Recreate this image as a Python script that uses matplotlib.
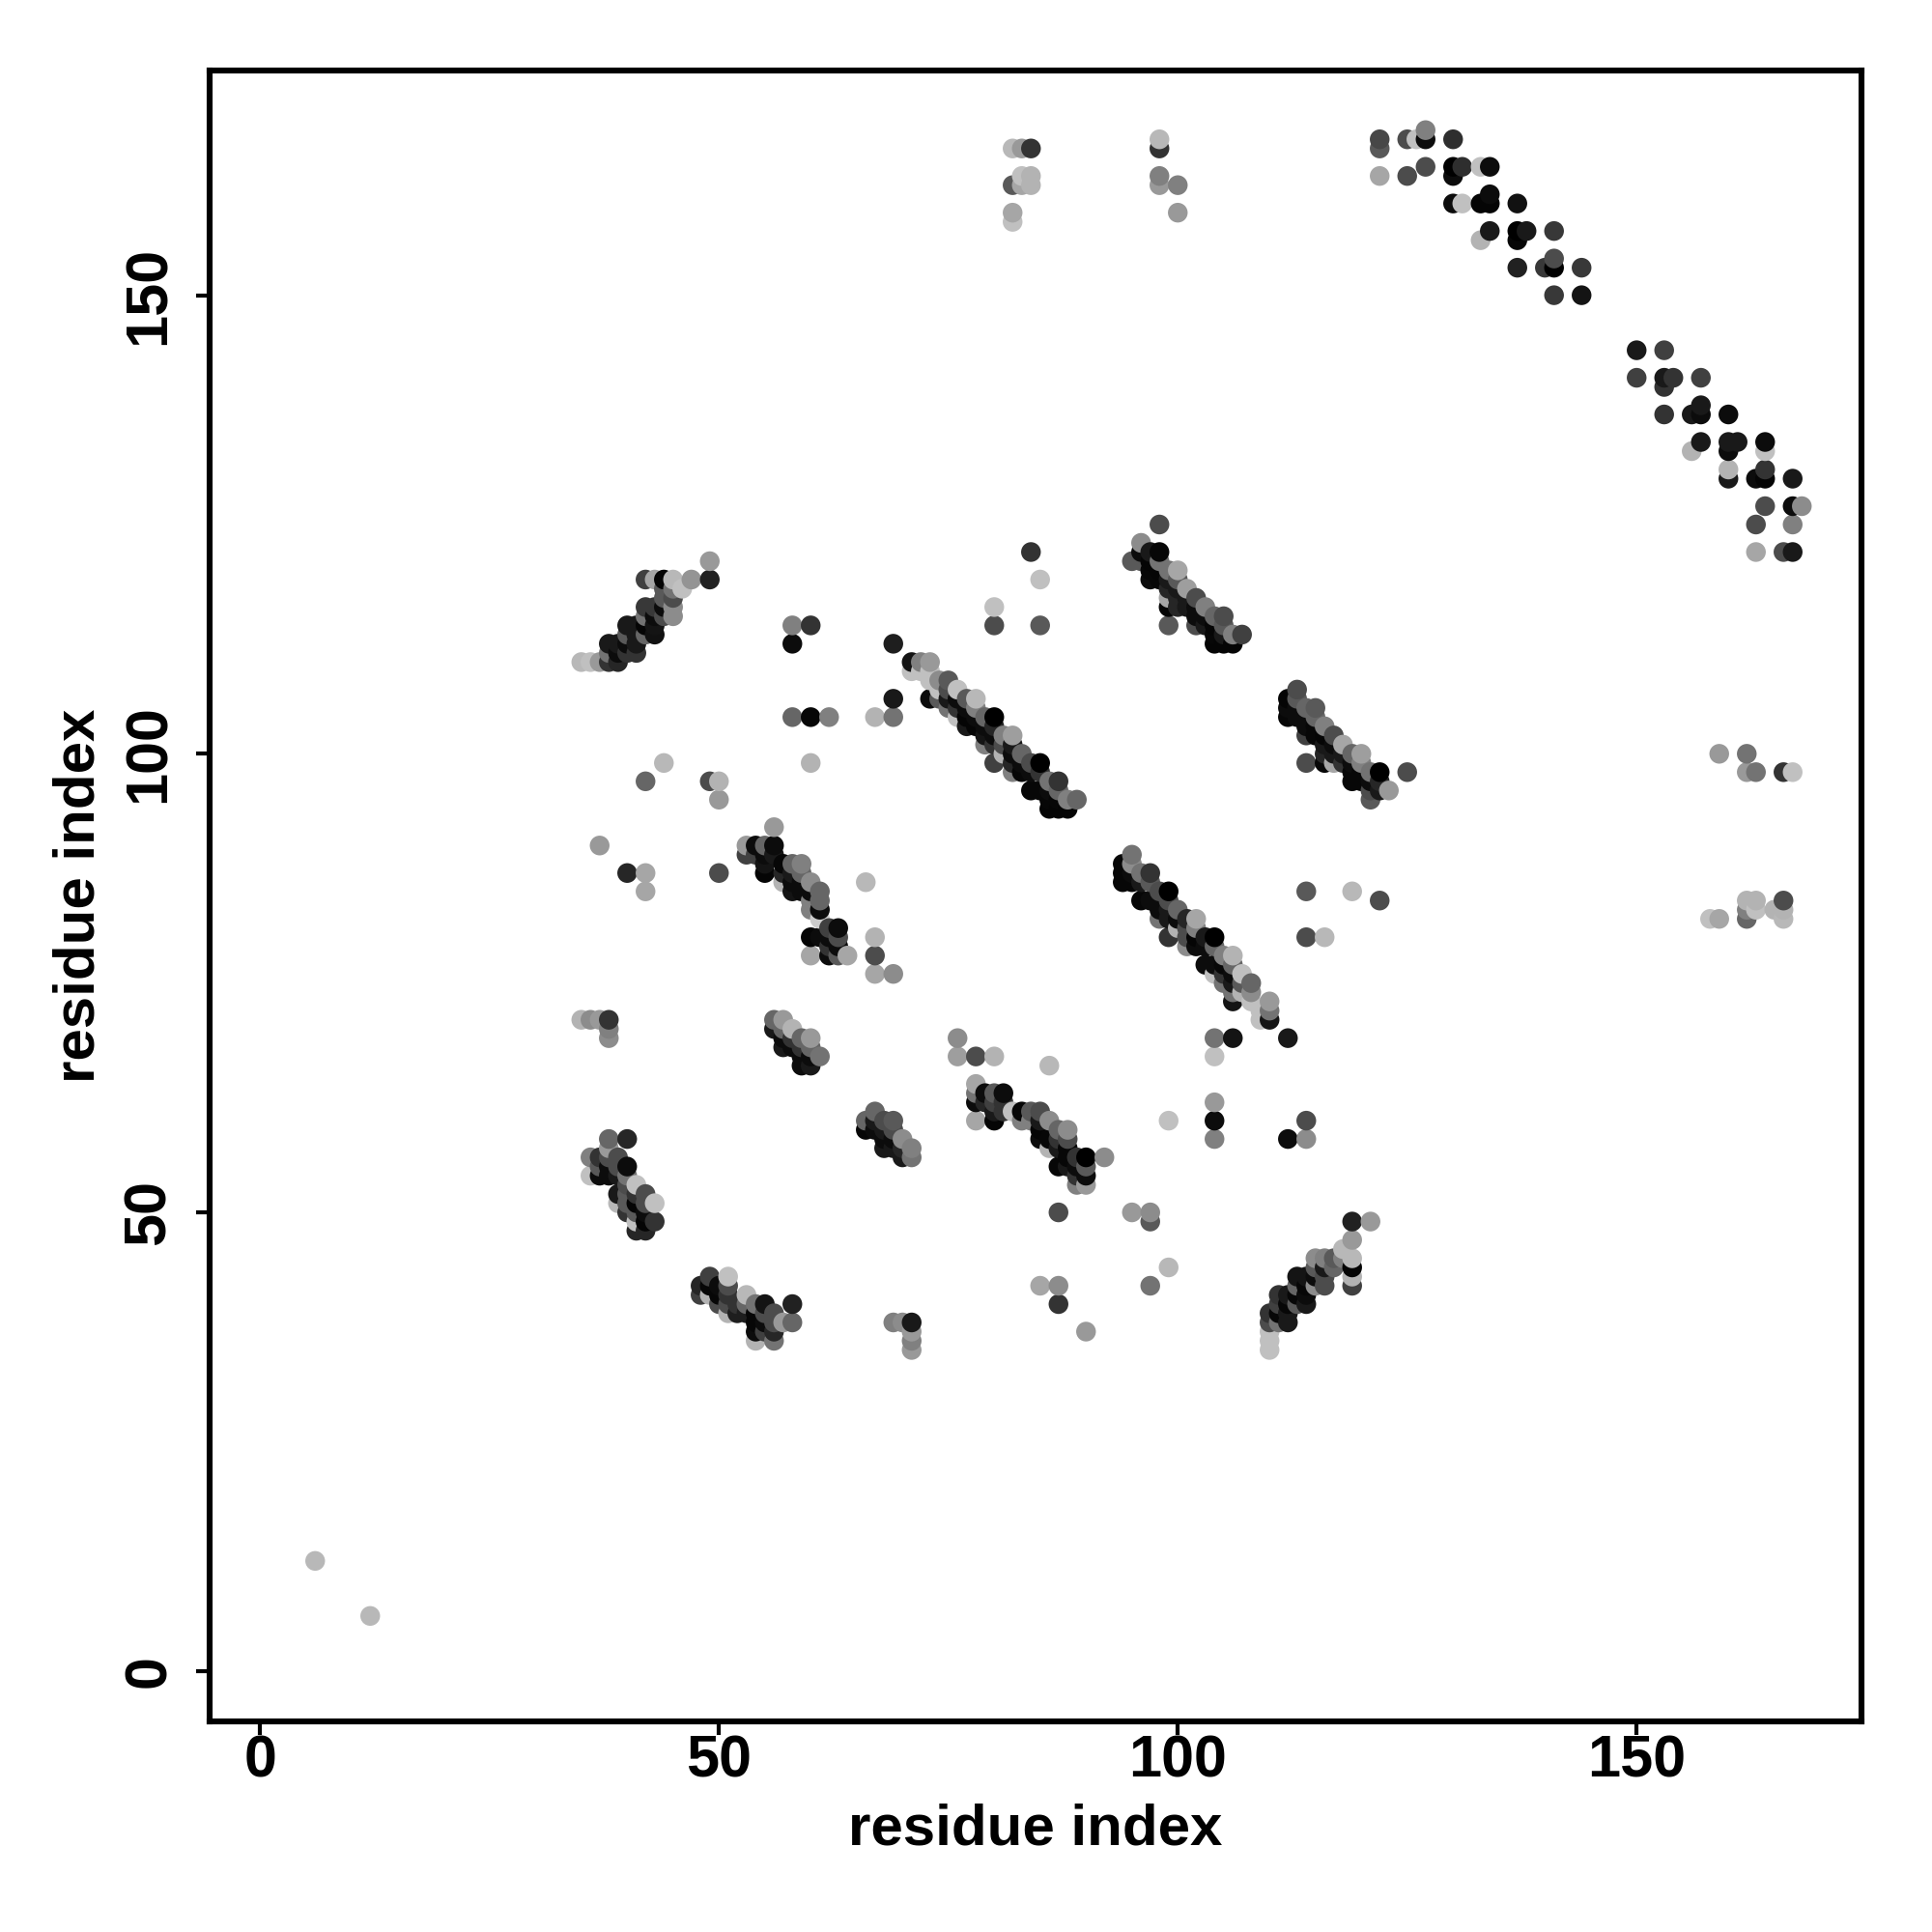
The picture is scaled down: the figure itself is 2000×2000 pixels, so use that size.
"""
Residue contact map, darker dots are stronger contacts.
"""
import pandas as pd
import matplotlib
matplotlib.use("Agg")
import matplotlib.pyplot as plt

# (residue i, residue j, grey level)
strand_a = [
    (49,121,.6),(49,119,.13),(47,119,.58),(42,119,.25),(43,119,.65),(44,119,.02),(45,119,.72),(46,118,.75),
    (44,118,.35),(45,118,.45),(44,117,.35),(45,117,.3),(45,116,.55),(45,115,.55),(42,116,.22),(43,116,.22),
    (44,116,.05),(42,115,.45),(43,115,.05),(44,115,.3),(43,114,.08),(43,113,.07),(40,114,.1),(41,114,.1),
    (42,114,.02),(40,113,.35),(41,113,.1),(42,113,.4),(38,112,.1),(39,112,.1),(40,112,.05),(41,112,.1),
    (38,111,.45),(39,111,.05),(40,111,.2),(41,111,.2),(38,110,.2),(39,110,.15),(37,110,.6),(36,110,.75),(35,110,.72),
]
strand_b = [
    (69,112,.12),(69,106,.1),(69,104,.45),(67,104,.7),(80,114,.3),(85,114,.35),(71,110,.08),(72,110,.5),(73,110,.6),
    (71,109,.75),(72,109,.75),(73,109,.75),(73,108,.75),(74,108,.55),(75,108,.35),(73,106,.05),(74,107,.75),(75,107,.3),
    (76,107,.75),(74,106,.35),(75,106,.1),(76,106,.05),(77,106,.35),(78,106,.72),(75,105,.45),(76,105,.2),(77,105,.05),
    (78,105,.5),(79,104,.4),(80,104,.0),(76,104,.75),(77,104,.02),(78,104,.05),(77,103,.1),(78,103,.02),(79,103,.05),
    (80,103,.15),(79,102,.08),(80,102,.05),(81,102,.5),(82,102,.62),(79,101,.5),(80,101,.2),(81,101,.3),(82,101,.1),
    (80,99,.25),(81,100,.7),(82,100,.05),(83,100,.4),(82,99,.15),(83,99,.05),(84,99,.3),(85,99,.0),(82,98,.5),(83,98,.03),
    (84,98,.05),(85,98,.2),(86,97,.45),(87,97,.2),(84,96,.03),(85,96,.03),(86,96,.05),(87,96,.4),(88,95,.5),(89,95,.4),
    (86,95,.03),(87,95,.03),(86,94,.02),(87,94,.02),(88,94,.02),
]
strand_c = [
    (98,125,.3),(96,123,.55),(95,121,.35),(96,122,.05),(97,122,.1),(98,122,.03),(96,121,.35),(97,121,.02),(98,121,.45),
    (97,120,.03),(98,120,.02),(99,120,.45),(100,120,.65),(97,119,.05),(98,119,.03),(99,119,.1),(100,119,.35),(101,118,.62),
    (99,118,.15),(100,118,.1),(99,117,.65),(100,117,.15),(101,117,.1),(102,117,.3),(99,116,.02),(100,116,.15),(101,116,.1),
    (102,116,.05),(103,116,.5),(99,114,.35),(102,114,.3),(103,114,.1),(102,115,.05),(103,115,.05),(104,115,.4),(105,115,.3),
    (104,114,.02),(105,114,.35),(106,113,.5),(107,113,.25),(104,113,.03),(105,113,.1),(104,112,.02),(105,112,.02),(106,112,.02),
]
strand_d = [
    (113,107,.3),(112,106,.02),(113,106,.35),(112,105,.05),(113,105,.05),(114,105,.4),(115,105,.35),(112,104,.03),(113,104,.05),
    (114,104,.05),(115,104,.4),(116,103,.5),(114,103,.05),(115,103,.03),(117,102,.3),(114,102,.25),(115,102,.03),(116,102,.02),
    (116,101,.1),(117,101,.05),(118,101,.65),(116,100,.15),(117,100,.1),(118,100,.1),(119,100,.4),(120,100,.62),(114,99,.3),
    (116,99,.03),(117,99,.65),(118,99,.2),(119,99,.05),(120,99,.5),(121,98,.45),(122,98,.0),(125,98,.3),(119,98,.03),(120,98,.03),
    (119,97,.03),(120,97,.03),(121,97,.05),(122,97,.15),(121,96,.3),(122,96,.1),(123,96,.6),(121,95,.35),
]
strand_e = [
    (95,89,.45),(94,88,.03),(95,88,.55),(94,87,.03),(95,87,.05),(96,87,.45),(97,87,.2),(94,86,.03),(95,86,.03),(96,86,.1),
    (97,86,.35),(98,85,.3),(99,85,.0),(96,84,.03),(97,84,.05),(98,84,.05),(99,84,.3),(100,83,.4),(98,83,.05),(99,83,.1),
    (98,82,.45),(99,82,.1),(100,82,.05),(101,82,.15),(102,82,.65),(99,80,.2),(100,81,.7),(101,81,.3),(102,81,.5),(101,80,.3),
    (102,80,.02),(103,80,.1),(104,80,.0),(101,79,.55),(102,79,.05),(103,79,.05),(104,79,.4),(105,78,.5),(106,78,.7),(103,77,.05),
    (104,77,.05),(105,77,.03),(106,77,.4),(104,76,.75),(105,76,.2),(106,76,.05),(107,76,.75),(105,75,.45),(106,75,.1),(107,75,.35),
    (108,75,.4),(106,74,.45),(107,74,.7),(108,74,.55),(106,73,.08),(108,73,.75),(109,72,.75),(110,73,.6),(110,72,.45),(110,71,.08),
    (109,71,.75),(104,69,.45),(106,69,.08),(112,69,.1),(114,85,.35),(114,80,.3),(116,80,.72),(104,67,.75),(119,85,.72),(122,84,.3),
]
strand_f = [
    (56,92,.6),(50,87,.3),(53,90,.6),(54,90,.05),(55,90,.4),(56,90,.05),(53,89,.25),(54,89,.25),(55,89,.05),(56,89,.1),(55,87,.02),
    (55,88,.08),(57,88,.03),(58,88,.4),(59,88,.5),(57,87,.15),(58,87,.1),(59,87,.4),(57,86,.7),(58,86,.05),(59,86,.05),(60,86,.55),
    (58,85,.08),(59,85,.05),(60,85,.05),(61,85,.4),(60,84,.5),(61,84,.4),(60,83,.5),(61,83,.05),(61,82,.8),(60,80,.02),(61,80,.05),
    (62,81,.25),(63,81,.05),(62,80,.05),(63,80,.3),(60,78,.65),(62,78,.05),(63,78,.35),(64,78,.65),(62,79,.2),(63,79,.05),
    (67,80,.7),(67,78,.3),(67,76,.65),(69,76,.55),(66,86,.72),
]
strand_g = [
    (76,69,.55),(76,67,.62),(78,67,.3),(80,67,.7),(86,66,.72),(78,64,.65),(78,63,.45),(78,62,.05),(78,60,.65),(79,63,.05),(80,63,.35),
    (81,63,.05),(79,62,.15),(80,62,.25),(81,62,.2),(80,61,.1),(81,61,.2),(80,60,.02),(82,61,.75),(83,61,.03),(84,61,.35),(85,61,.3),
    (83,60,.5),(84,60,.5),(86,60,.55),(85,60,.1),(85,59,.02),(87,59,.4),(88,59,.55),(85,58,.05),(86,58,.03),(87,58,.2),(88,58,.3),
    (86,57,.7),(87,57,.1),(88,57,.03),(87,55,.03),(88,56,.03),(89,56,.2),(90,56,.0),(92,56,.55),(88,55,.1),(89,55,.05),(90,55,.35),
    (89,54,.2),(90,54,.05),(89,53,.5),(90,53,.6),
]
strand_h = [
    (38,71,.2),(36,71,.55),(37,71,.6),(35,71,.7),(38,70,.5),(38,69,.55),(38,58,.4),(40,58,.15),(38,57,.6),(36,56,.5),(37,56,.2),
    (38,56,.3),(39,56,.3),(40,55,.05),(36,54,.75),(37,55,.35),(37,54,.05),(38,55,.05),(39,55,.3),(38,54,.05),(39,54,.1),(40,54,.45),
    (41,53,.75),(39,52,.1),(39,51,.72),(40,52,.35),(40,53,.3),(41,52,.2),(42,52,.3),(43,51,.75),(40,51,.35),(41,51,.02),(42,51,.3),
    (40,50,.2),(41,50,.35),(42,50,.05),(43,49,.2),(41,49,.75),(42,49,.02),(41,48,.15),(42,48,.15),
]
strand_i = [
    (49,43,.25),(51,43,.75),(48,42,.15),(49,42,.03),(50,42,.05),(51,42,.3),(48,41,.25),(49,41,.7),(50,41,.03),(51,41,.2),(53,41,.72),
    (50,40,.3),(51,40,.3),(52,40,.2),(53,40,.4),(54,40,.45),(55,40,.08),(58,40,.13),(51,39,.7),(52,39,.12),(53,39,.12),(54,39,.03),
    (55,39,.3),(56,39,.3),(57,38,.6),(58,38,.4),(54,38,.03),(55,38,.05),(56,38,.3),(54,37,.05),(55,37,.25),(56,37,.15),(54,36,.7),(56,36,.45),
]
strand_j = [
    (119,49,.13),(121,49,.6),(119,47,.6),(118,46,.72),(119,45,.72),(119,44,.02),(119,43,.7),(119,42,.25),(115,45,.55),(116,45,.5),
    (117,45,.35),(118,45,.5),(115,44,.35),(116,44,.1),(117,44,.4),(113,43,.08),(114,43,.08),(115,43,.05),(116,43,.3),(113,42,.4),
    (114,42,.03),(115,42,.55),(116,42,.3),(111,41,.2),(112,41,.1),(113,41,.03),(114,41,.05),(111,40,.25),(112,40,.03),(113,40,.35),
    (114,40,.1),(110,39,.2),(111,39,.03),(112,39,.1),(110,38,.3),(111,38,.45),(112,38,.1),(110,37,.75),(110,36,.75),(110,35,.75),
]
top_arc = [
    (122,167,.28),(122,166,.35),(122,163,.65),(125,167,.3),(125,163,.3),(126,167,.75),(127,167,.05),(127,168,.5),(127,164,.3),
    (130,167,.18),(130,164,.0),(130,163,.05),(131,164,.18),(133,164,.75),(134,164,.05),(130,160,.05),(131,160,.75),(133,160,.02),
    (134,160,.02),(134,161,.05),(137,160,.07),(133,156,.7),(134,157,.1),(137,157,.0),(137,156,.03),(138,157,.1),(141,157,.22),
    (137,153,.13),(140,153,.22),(141,153,.0),(141,154,.3),(144,153,.22),(141,150,.22),(144,150,.08),
]
right_arc = [
    (150,144,.1),(153,144,.25),(150,141,.25),(153,141,.1),(153,140,.2),(154,141,.2),(157,141,.25),(153,137,.2),(156,137,.1),
    (157,138,.1),(157,137,.05),(157,134,.1),(160,137,.05),(156,133,.7),(160,134,.1),(160,133,.05),(161,134,.1),(164,134,.05),
    (164,133,.75),(160,131,.7),(160,130,.1),(163,130,.05),(164,131,.2),(164,130,.02),(167,130,.1),(164,127,.3),(167,127,.05),
    (168,127,.55),(167,125,.5),(163,125,.3),(163,122,.65),(166,122,.3),(167,122,.1),
]
small_blobs = [
    (56,71,.4),(57,71,.6),(56,70,.1),(57,70,.4),(58,70,.7),(57,69,.05),(58,69,.2),(59,69,.4),(60,69,.6),(57,68,.1),(58,68,.05),
    (59,68,.2),(60,68,.4),(59,67,.05),(60,67,.05),(61,67,.45),(59,66,.05),(60,66,.1),
    (67,61,.4),(66,60,.4),(67,60,.1),(68,60,.3),(69,60,.35),(66,59,.03),(67,59,.05),(68,59,.1),(69,59,.3),(70,58,.55),(68,58,.05),
    (69,58,.05),(68,57,.1),(69,57,.1),(70,57,.15),(71,57,.5),(70,56,.1),(71,56,.45),
]
scattered = [
    (82,166,.72),(83,166,.6),(84,166,.2),(82,162,.35),(83,163,.75),(84,163,.7),(83,162,.65),(84,162,.7),(82,159,.65),(82,158,.75),
    (98,167,.72),(98,166,.2),(98,163,.5),(98,162,.6),(100,162,.5),(100,159,.6),
    (84,122,.2),(85,119,.75),(80,116,.75),(58,114,.5),(60,114,.2),(58,112,.05),(58,104,.4),(60,104,.03),(62,104,.5),(60,99,.7),
    (44,99,.72),(42,97,.4),(49,97,.3),(50,97,.7),(50,95,.6),(37,90,.6),(40,87,.15),(42,87,.65),(42,85,.65),
    (159,100,.6),(162,100,.45),(162,98,.6),(163,98,.45),(166,98,.2),(167,98,.75),
    (158,82,.75),(159,82,.65),(162,82,.4),(162,84,.7),(163,84,.7),(162,83,.5),(163,83,.75),(165,83,.7),(166,83,.7),(166,84,.3),(166,82,.72),
    (69,38,.5),(70,38,.55),(71,38,.1),(71,37,.6),(71,36,.5),(71,35,.6),(90,37,.6),(87,50,.3),(95,50,.6),(97,50,.55),(97,49,.35),
    (99,44,.72),(97,42,.45),(85,42,.65),(87,42,.55),(87,40,.2),
    (99,60,.75),(104,62,.6),(104,60,.05),(104,58,.5),(112,58,.05),(114,60,.3),(114,58,.55),
    (6,12,.72),(12,6,.72),
]
ticks = [0, 50, 100, 150]

groups = [strand_a, strand_b, strand_c, strand_d, strand_e, strand_f, strand_g, strand_h,
          strand_i, strand_j, top_arc, right_arc, small_blobs, scattered]
df = pd.DataFrame([p for g in groups for p in g], columns=["i", "j", "grey"])
df = df.drop_duplicates(["i", "j"], keep="last").sort_values(["i", "j"])

plt.rcParams["font.family"] = ["Liberation Sans", "DejaVu Sans"]
fig = plt.figure(figsize=(10, 10), dpi=200)
ax = fig.add_axes([217 / 2000, 218 / 2000, 1710 / 2000, 1709 / 2000])
ax.scatter(df["i"], df["j"], c=df["grey"], cmap="gray", vmin=0, vmax=1, s=54, linewidths=0)
ax.set_xlim(-5.5, 174.5)
ax.set_ylim(-5.5, 174.5)
ax.set_xticks(ticks)
ax.set_yticks(ticks)
ax.tick_params(length=5, width=1.5, labelsize=22)
ax.tick_params(axis="x", pad=0)
ax.tick_params(axis="y", pad=7)
for lab in ax.get_xticklabels():
    lab.set_fontweight("bold")
for lab in ax.get_yticklabels():
    lab.set_fontweight("bold")
    lab.set_rotation(90)
    lab.set_va("center")
for s in ax.spines.values():
    s.set_linewidth(2.2)
ax.set_xlabel("residue index", fontsize=21.6, fontweight="bold", labelpad=5)
ax.set_ylabel("residue index", fontsize=21.6, fontweight="bold", labelpad=6)
fig.savefig("out.png", dpi=200)
